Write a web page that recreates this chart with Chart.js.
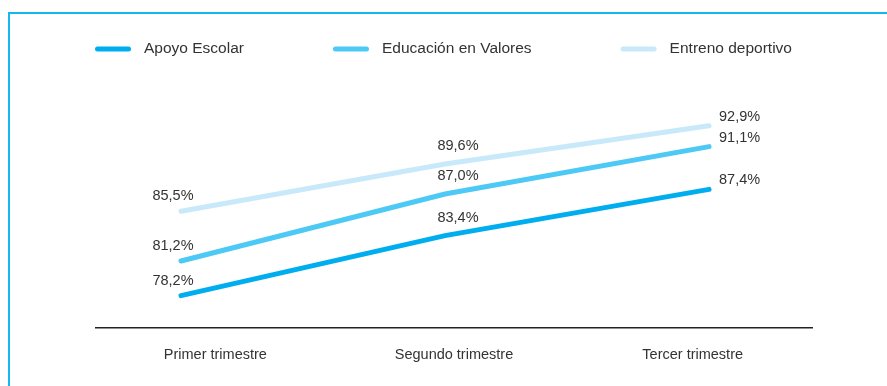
<!DOCTYPE html>
<html lang="es">
<head>
<meta charset="utf-8">
<title>Resultados por trimestre</title>
<script src="https://cdn.jsdelivr.net/npm/chart.js@4.4.1/dist/chart.umd.min.js"></script>
<style>
  html, body { margin: 0; padding: 0; background: #fff; overflow: hidden; }
  #wrap { position: relative; width: 887px; height: 386px; }
  #marco { position: absolute; left: 8px; top: 12px; width: 1000px; height: 500px; border: 2px solid #18b6ef; }
  #grafico { position: absolute; left: 0; top: 0; }
</style>
</head>
<body>
<div id="wrap">
  <div id="marco"></div>
  <canvas id="grafico" width="887" height="386"></canvas>
</div>
<script>
// Trimestres
const trimestres = ["Primer trimestre", "Segundo trimestre", "Tercer trimestre"];

// Porcentaje por programa
const apoyoEscolar = [78.2, 83.4, 87.4];
const educacionValores = [81.2, 87.0, 91.1];
const entrenoDeportivo = [85.5, 89.6, 92.9];

const fuente = "'Liberation Sans', Arial, sans-serif";

// Puntos con x numérica para el eje oculto de las líneas
const aPuntos = (valores) => valores.map((v, i) => ({ x: i, y: v }));

// Leyenda con trazos de línea redondeados
const leyendaLineas = {
  id: "leyendaLineas",
  afterDraw(chart) {
    const ctx = chart.ctx;
    const items = chart.data.datasets;
    const anchoLinea = 36, espacio = 13, separacion = 89;
    ctx.save();
    ctx.font = "15.5px " + fuente;
    const anchos = items.map((d) => anchoLinea + espacio + ctx.measureText(d.label).width);
    const total = anchos.reduce((a, b) => a + b, 0) + separacion * (items.length - 1);
    let x = (chart.width - total) / 2;
    const y = 49;
    items.forEach((d, i) => {
      ctx.strokeStyle = d.borderColor;
      ctx.lineWidth = 5;
      ctx.lineCap = "round";
      ctx.beginPath();
      ctx.moveTo(x + 2.5, y);
      ctx.lineTo(x + anchoLinea - 2.5, y);
      ctx.stroke();
      ctx.fillStyle = "#333";
      ctx.textAlign = "left";
      ctx.textBaseline = "middle";
      ctx.fillText(d.label, x + anchoLinea + espacio, y);
      x += anchos[i] + separacion;
    });
    ctx.restore();
  },
};

// Etiquetas de porcentaje sobre cada punto
const etiquetasValor = {
  id: "etiquetasValor",
  afterDatasetsDraw(chart) {
    const ctx = chart.ctx;
    // desplazamiento según el trimestre
    const ajustes = [
      { dx: -8, dy: -15, align: "center" },
      { dx: 13, dy: -18, align: "center" },
      { dx: 10, dy: -9, align: "left" },
    ];
    ctx.save();
    ctx.font = "14.5px " + fuente;
    ctx.fillStyle = "#333";
    ctx.textBaseline = "middle";
    chart.data.datasets.forEach((d, di) => {
      chart.getDatasetMeta(di).data.forEach((p, i) => {
        const a = ajustes[i];
        ctx.textAlign = a.align;
        ctx.fillText(d.data[i].y.toFixed(1).replace(".", ",") + "%", p.x + a.dx, p.y + a.dy);
      });
    });
    ctx.restore();
  },
};

new Chart(document.getElementById("grafico"), {
  type: "line",
  data: {
    labels: trimestres,
    datasets: [
      { label: "Apoyo Escolar", data: aPuntos(apoyoEscolar), borderColor: "#00aeef", xAxisID: "xp" },
      { label: "Educación en Valores", data: aPuntos(educacionValores), borderColor: "#4cc9f4", xAxisID: "xp" },
      { label: "Entreno deportivo", data: aPuntos(entrenoDeportivo), borderColor: "#c8e9f9", xAxisID: "xp" },
    ],
  },
  options: {
    responsive: false,
    animation: false,
    layout: { padding: { left: 96, right: 75, top: 60, bottom: 18 } },
    plugins: {
      legend: { display: false },
      tooltip: { enabled: false },
    },
    elements: {
      point: { radius: 0, hoverRadius: 0 },
      line: { borderWidth: 5, borderCapStyle: "round", tension: 0 },
    },
    scales: {
      x: {
        type: "category",
        offset: true,
        grid: { display: false, drawTicks: false },
        border: { display: true, color: "#222", width: 1.5 },
        ticks: { padding: 18, color: "#333", font: { family: fuente, size: 14.5 } },
        afterFit(scale) {
          scale.height = 40;
        },
      },
      xp: { type: "linear", axis: "x", position: "bottom", display: false, min: -0.322, max: 2.39 },
      y: { display: false, min: 75.4, max: 98.6 },
    },
  },
  plugins: [leyendaLineas, etiquetasValor],
});
</script>
</body>
</html>
